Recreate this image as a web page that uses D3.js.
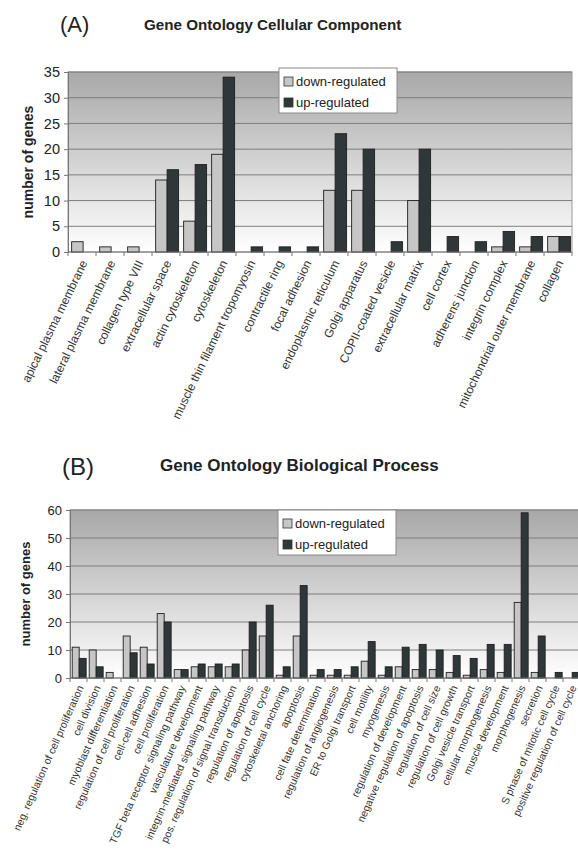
<!DOCTYPE html>
<html><head><meta charset="utf-8">
<script src="https://cdn.jsdelivr.net/npm/d3@7"></script>
<style>
body{margin:0;background:#fff;}
svg{display:block;font-family:"Liberation Sans",Arial,sans-serif;}
</style></head>
<body>
<script>
// ---------- Panel A data ----------
const categoriesA = ["apical plasma membrane","lateral plasma membrane","collagen type VIII","extracellular space","actin cytoskeleton","cytoskeleton","muscle thin filament tropomyosin","contractile ring","focal adhesion","endoplasmic reticulum","Golgi apparatus","COPII-coated vesicle","extracellular matrix","cell cortex","adherens junction","integrin complex","mitochondrial outer membrane","collagen"];
const downA = [2,1,1,14,6,19,0,0,0,12,12,0,10,0,0,1,1,3];
const upA   = [0,0,0,16,17,34,1,1,1,23,20,2,20,3,2,4,3,3];
const ticksA = [0,5,10,15,20,25,30,35];

// ---------- Panel B data ----------
const categoriesB = ["neg. regulation of cell proliferation","cell division","myoblast differentiation","regulation of cell proliferation","cell-cell adhesion","cell proliferation","TGF beta receptor signaling pathway","vasculature development","integrin-mediated signaling pathway","pos. regulation of signal transduction","regulation of apoptosis","regulation of cell cycle","cytoskeletal anchoring","apoptosis","cell fate determination","regulation of angiogenesis","ER to Golgi transport","cell motility","myogenesis","regulation of development","negative regulation of apoptosis","regulation of cell size","regulation of cell growth","Golgi vesicle transport","cellular morphogenesis","muscle development","morphogenesis","secretion","S phase of mitotic cell cycle","positive regulation of cell cycle"];
const downB = [11,10,2,15,11,23,3,4,4,4,10,15,1,15,1,1,1,6,1,4,3,3,2,1,3,2,27,2,0,0];
const upB   = [7,4,0,9,5,20,3,5,5,5,20,26,4,33,3,3,4,13,4,11,12,10,8,7,12,12,59,15,2,2];
const ticksB = [0,10,20,30,40,50,60];

const seriesNames = ["down-regulated","up-regulated"];
const seriesColors = ["#c6c6c6","#2f3739"];

const svg = d3.select("body").append("svg").attr("width",578).attr("height",863);
const defs = svg.append("defs");
const grad = defs.append("linearGradient").attr("id","bg").attr("x1",0).attr("y1",0).attr("x2",0).attr("y2",1);
grad.append("stop").attr("offset","0%").attr("stop-color","#a8a8a8");
grad.append("stop").attr("offset","100%").attr("stop-color","#ffffff");

function panel(o){
  const g = svg.append("g");
  // titles
  g.append("text").attr("x",o.letterX).attr("y",o.letterY).attr("font-size",o.letterFont).attr("fill","#222").text(o.letter);
  g.append("text").attr("x",o.titleX).attr("y",o.titleY).attr("font-size",o.titleFont).attr("font-weight","bold").attr("fill","#222").text(o.title);

  const x = d3.scaleBand().domain(o.cats).range([o.left,o.right]).paddingInner(0).paddingOuter(0);
  const w = x.bandwidth();
  const x1 = d3.scaleBand().domain([0,1]).range([w*0.13,w*0.95]);
  const y = d3.scaleLinear().domain([0,o.max]).range([o.bottom,o.top]);

  // background
  g.append("rect").attr("x",o.left).attr("y",o.top).attr("width",o.right-o.left).attr("height",o.bottom-o.top)
    .attr("fill","url(#bg)").attr("stroke","#9a9a9a").attr("stroke-width",1);
  // grid
  g.selectAll(".grid").data(o.ticks.filter(t=>t>0)).join("line")
    .attr("x1",o.left).attr("x2",o.right).attr("y1",d=>y(d)).attr("y2",d=>y(d))
    .attr("stroke","#7d7d7d").attr("stroke-width",1);

  // bars
  const data = o.cats.map((c,i)=>({c, v:[o.down[i],o.up[i]]}));
  const cg = g.selectAll(".cat").data(data).join("g").attr("transform",d=>`translate(${x(d.c)},0)`);
  cg.selectAll("rect").data(d=>d.v.map((v,k)=>({v,k})).filter(d=>d.v>0)).join("rect")
    .attr("x",d=>x1(d.k)).attr("width",x1.bandwidth())
    .attr("y",d=>y(d.v)).attr("height",d=>y(0)-y(d.v))
    .attr("fill",d=>seriesColors[d.k]).attr("stroke","#1e1e1e").attr("stroke-width",0.9);

  // axes
  const yAxis = d3.axisLeft(y).tickValues(o.ticks).tickSize(4).tickPadding(4);
  const ya = g.append("g").attr("transform",`translate(${o.left},0)`).call(yAxis);
  ya.select(".domain").attr("stroke","#777");
  ya.selectAll(".tick line").attr("stroke","#777");
  ya.selectAll("text").attr("font-size",o.tickFont).attr("fill","#222").attr("font-family","Liberation Sans, Arial, sans-serif");

  // x axis line + boundary ticks
  g.append("line").attr("x1",o.left).attr("x2",o.right).attr("y1",o.bottom).attr("y2",o.bottom).attr("stroke","#777");
  g.selectAll(".xt").data(d3.range(o.cats.length+1)).join("line")
    .attr("x1",i=>o.left+i*w).attr("x2",i=>o.left+i*w).attr("y1",o.bottom).attr("y2",o.bottom+4).attr("stroke","#777");
  g.selectAll(".xl").data(o.cats).join("text")
    .attr("transform",d=>`translate(${x(d)+w/2+o.lblDx},${o.bottom+o.lblDy}) rotate(${o.angle})`)
    .attr("text-anchor","end").attr("font-size",o.lblFont).attr("fill","#333")
    .attr("dy","0.35em").text(d=>d);

  // y label
  g.append("text").attr("transform",`translate(${o.ylabX},${(o.top+o.bottom)/2}) rotate(-90)`)
    .attr("text-anchor","middle").attr("font-size",o.ylabFont).attr("font-weight","bold").attr("fill","#222")
    .text("number of genes");

  // legend
  const lg = g.append("g").attr("transform",`translate(${o.legX},${o.legY})`);
  lg.append("rect").attr("width",118).attr("height",45).attr("fill","#fff").attr("stroke","#8a8a8a");
  seriesNames.forEach((s,k)=>{
    lg.append("rect").attr("x",5).attr("y",9+k*21).attr("width",9).attr("height",9)
      .attr("fill",seriesColors[k]).attr("stroke","#333").attr("stroke-width",0.8);
    lg.append("text").attr("x",17).attr("y",18+k*21).attr("font-size",13).attr("fill","#222").text(s);
  });
}

panel({letter:"(A)",letterX:60,letterY:32,letterFont:22,title:"Gene Ontology Cellular Component",titleX:144,titleY:30,titleFont:15.2,
  cats:categoriesA,down:downA,up:upA,ticks:ticksA,max:35,
  left:68,right:572,top:72,bottom:252,tickFont:14.5,lblFont:12,lblDx:2,lblDy:9,angle:-64,
  ylabX:33,ylabFont:14,legX:279,legY:68});

panel({letter:"(B)",letterX:62,letterY:475,letterFont:24,title:"Gene Ontology Biological Process",titleX:160,titleY:471,titleFont:17,
  cats:categoriesB,down:downB,up:upB,ticks:ticksB,max:60,
  left:70,right:580,top:510,bottom:678,tickFont:13,lblFont:10.5,lblDx:2,lblDy:8,angle:-66,
  ylabX:30,ylabFont:13,legX:278,legY:510});
</script>
</body></html>
